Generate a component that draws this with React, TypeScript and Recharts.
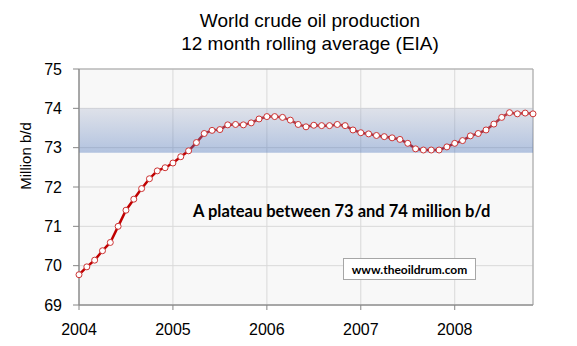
import React from 'react';
import {
  LineChart,
  Line,
  XAxis,
  YAxis,
  CartesianGrid,
  ReferenceArea
} from 'recharts';

// 12 month rolling average, million b/d, one value per month (Jan..Dec)
const prod2004 = [69.77, 69.97, 70.14, 70.38, 70.59, 71.0, 71.41, 71.69, 71.96, 72.21, 72.41, 72.49];
const prod2005 = [72.61, 72.77, 72.92, 73.13, 73.36, 73.44, 73.46, 73.58, 73.59, 73.58, 73.63, 73.73];
const prod2006 = [73.79, 73.79, 73.77, 73.7, 73.59, 73.53, 73.57, 73.56, 73.56, 73.59, 73.56, 73.45];
const prod2007 = [73.38, 73.35, 73.31, 73.28, 73.25, 73.21, 73.11, 72.97, 72.94, 72.94, 72.94, 73.02];
const prod2008 = [73.11, 73.18, 73.3, 73.36, 73.45, 73.6, 73.77, 73.89, 73.86, 73.88, 73.86];

const years = ['2004', '2005', '2006', '2007', '2008'];
const yTicks = [69, 70, 71, 72, 73, 74, 75];
const plateauLow = 72.87;
const plateauHigh = 74;

const data = [prod2004, prod2005, prod2006, prod2007, prod2008].flatMap((vals, yi) =>
  vals.map((value, mi) => ({ month: yi * 12 + mi, value }))
);
const lastMonth = data.length - 1;
const yearTicks = years.map((_, i) => i * 12);

const tickStyle = { fill: '#000', fontSize: 16, fontFamily: 'Liberation Sans, Arial, sans-serif' };

export default function App() {
  return (
    <div style={{ position: 'absolute', left: 0, top: 0, width: 577, height: 346, background: '#fff' }}>
      <div
        style={{
          position: 'absolute',
          left: 0,
          top: 9,
          width: 620,
          textAlign: 'center',
          fontFamily: 'Liberation Sans, Arial, sans-serif',
          fontSize: 19,
          lineHeight: '23px',
          color: '#000'
        }}
      >
        <div>World crude oil production</div>
        <div>12 month rolling average (EIA)</div>
      </div>

      <LineChart width={577} height={346} data={data} margin={{ top: 69, right: 44, bottom: 0, left: 0 }}>
        <defs>
          <linearGradient id="band" x1="0" y1="0" x2="0" y2="1">
            <stop offset="0%" stopColor="#aeb7ce" stopOpacity={0.35} />
            <stop offset="100%" stopColor="#3f6bb7" stopOpacity={0.38} />
          </linearGradient>
        </defs>
        <CartesianGrid stroke="#d9d9d9" fill="#f8f8f8" />
        <XAxis
          dataKey="month"
          type="number"
          domain={[0, lastMonth]}
          ticks={yearTicks}
          tickFormatter={(v: number) => years[v / 12]}
          height={41}
          tickSize={5}
          tickMargin={14}
          stroke="#868686"
          tick={tickStyle}
        />
        <YAxis
          domain={[69, 75]}
          ticks={yTicks}
          width={79}
          tickSize={6}
          tickMargin={11}
          stroke="#868686"
          tick={tickStyle}
        />
        <ReferenceArea x1={0} x2={lastMonth} y1={69} y2={75} fill="none" stroke="#a6a6a6" />
        <Line
          type="linear"
          dataKey="value"
          stroke="#c00000"
          strokeWidth={2.5}
          dot={{ r: 3, fill: '#fff', stroke: '#cc3333', strokeWidth: 1 }}
          activeDot={false}
          isAnimationActive={false}
        />
        <ReferenceArea
          y1={plateauLow}
          y2={plateauHigh}
          fill="url(#band)"
          fillOpacity={1}
          stroke="none"
          zIndex={450}
        />
      </LineChart>

      <div
        style={{
          position: 'absolute',
          left: 25,
          top: 156,
          transform: 'translate(-50%, -50%) rotate(-90deg)',
          whiteSpace: 'nowrap',
          fontFamily: 'Liberation Sans, Arial, sans-serif',
          fontSize: 15,
          color: '#000'
        }}
      >
        Million b/d
      </div>

      <div
        style={{
          position: 'absolute',
          left: 193,
          top: 201,
          whiteSpace: 'nowrap',
          fontFamily: 'Lato, sans-serif',
          fontWeight: 'bold',
          fontSize: 16.5,
          lineHeight: '20px',
          color: '#000'
        }}
      >
        A plateau between 73 and 74 million b/d
      </div>

      <div
        style={{
          position: 'absolute',
          left: 343,
          top: 258,
          width: 131,
          height: 20,
          border: '1px solid #a6a6a6',
          background: '#fff',
          display: 'flex',
          alignItems: 'center',
          justifyContent: 'center',
          fontFamily: 'Lato, sans-serif',
          fontWeight: 'bold',
          fontSize: 12,
          color: '#000'
        }}
      >
        www.theoildrum.com
      </div>
    </div>
  );
}
